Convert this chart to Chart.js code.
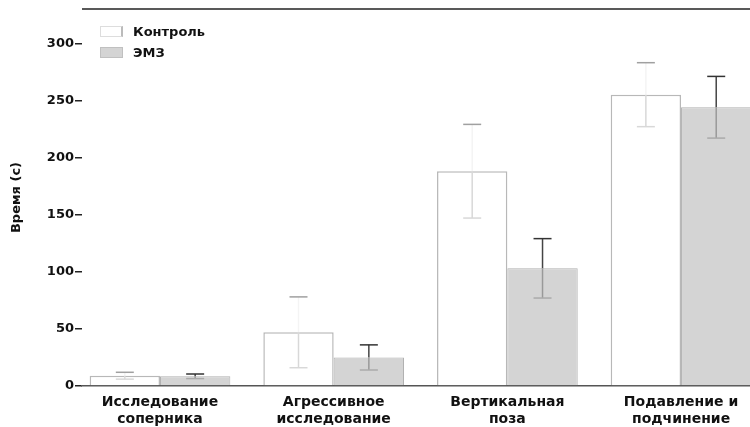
<!DOCTYPE html>
<html lang="ru">
<head>
    <meta charset="UTF-8">
    <title>Время поведенческих актов</title>
    <script src="https://cdn.jsdelivr.net/npm/chart.js"></script>
    <style>
        body {
            margin: 0;
            background: #fff;
            overflow: hidden;
            font-family: 'DejaVu Sans', sans-serif;
        }
        .wrap {
            position: relative;
            width: 750px;
            height: 427px;
        }
        .legend {
            position: absolute;
            left: 100px;
            top: 21px;
            font-weight: bold;
            font-size: 13px;
            color: #111;
        }
        .legend div {
            display: flex;
            align-items: center;
            height: 21px;
        }
        .legend span.box {
            display: inline-block;
            width: 23px;
            height: 11px;
            margin-right: 10px;
            box-sizing: border-box;
        }
    </style>
</head>
<body>
    <div class="wrap">
        <canvas id="timeChart" width="750" height="427"></canvas>
        <div class="legend">
            <div><span class="box" style="background:#fff;border:1px solid #ddd;border-right:2px solid #bbb"></span>Контроль</div>
            <div><span class="box" style="background:#d4d4d4;border:1px solid #c0c0c0"></span>ЭМЗ</div>
        </div>
    </div>

    <script>
        const categories = [
            ['Исследование', 'соперника'],
            ['Агрессивное', 'исследование'],
            ['Вертикальная', 'поза'],
            ['Подавление и', 'подчинение']
        ];
        const controlValues = [9, 47, 188, 255];
        const controlErrors = [3, 31, 41, 28];
        const emzValues = [8.5, 25, 103, 244];
        const emzErrors = [2, 11, 26, 27];
        const yTicks = [0, 50, 100, 150, 200, 250, 300];

        function strokeLine(ctx, x1, y1, x2, y2, color, width) {
            ctx.beginPath();
            ctx.moveTo(x1, y1);
            ctx.lineTo(x2, y2);
            ctx.strokeStyle = color;
            ctx.lineWidth = width;
            ctx.stroke();
        }

        // mean +/- error whiskers on top of each bar
        const errorBars = {
            id: 'errorBars',
            afterDatasetsDraw(chart) {
                const ctx = chart.ctx;
                const y = chart.scales.y;
                const styles = [
                    { values: controlValues, errors: controlErrors, up: '#f4f4f4', upCap: '#a0a0a0', down: '#d8d8d8', downCap: '#d8d8d8' },
                    { values: emzValues, errors: emzErrors, up: '#444', upCap: '#333', down: '#999', downCap: '#aaa' }
                ];
                ctx.save();
                styles.forEach((s, i) => {
                    chart.getDatasetMeta(i).data.forEach((bar, j) => {
                        const top = y.getPixelForValue(s.values[j] + s.errors[j]);
                        const mid = y.getPixelForValue(s.values[j]);
                        const bottom = y.getPixelForValue(s.values[j] - s.errors[j]);
                        strokeLine(ctx, bar.x, top, bar.x, mid, s.up, 1.5);
                        strokeLine(ctx, bar.x, mid, bar.x, bottom, s.down, 1.5);
                        strokeLine(ctx, bar.x - 9, top, bar.x + 9, top, s.upCap, 1.5);
                        strokeLine(ctx, bar.x - 9, bottom, bar.x + 9, bottom, s.downCap, 1.5);
                    });
                });
                ctx.restore();
            }
        };

        // thin rule along the top of the plot area
        const topRule = {
            id: 'topRule',
            beforeDatasetsDraw(chart) {
                const a = chart.chartArea;
                chart.ctx.save();
                strokeLine(chart.ctx, a.left, a.top, a.right, a.top, '#222', 1.5);
                chart.ctx.restore();
            }
        };

        const ctx = document.getElementById('timeChart').getContext('2d');
        new Chart(ctx, {
            type: 'bar',
            data: {
                datasets: [{
                    label: 'Контроль',
                    data: controlValues.map((v, i) => ({ x: i, y: v })),
                    backgroundColor: '#ffffff',
                    borderColor: '#b8b8b8',
                    borderWidth: 1.5
                }, {
                    label: 'ЭМЗ',
                    data: emzValues.map((v, i) => ({ x: i, y: v })),
                    backgroundColor: '#d4d4d4',
                    borderColor: '#b0b0b0',
                    borderWidth: 1
                }]
            },
            options: {
                responsive: false,
                animation: false,
                devicePixelRatio: 1,
                categoryPercentage: 0.81,
                barPercentage: 1,
                layout: { padding: { top: 9, left: 0, right: 0, bottom: 0 } },
                plugins: {
                    legend: { display: false },
                    tooltip: { enabled: false }
                },
                scales: {
                    x: {
                        type: 'linear',
                        offset: false,
                        min: -0.449,
                        max: 3.397,
                        afterBuildTicks: s => { s.ticks = categories.map((c, i) => ({ value: i })); },
                        afterFit: s => { s.height = 41; },
                        grid: { display: false, drawTicks: false },
                        border: { display: true, color: '#555', width: 1.5 },
                        ticks: {
                            autoSkip: false,
                            maxRotation: 0,
                            padding: 8,
                            color: '#111',
                            font: { family: 'DejaVu Sans', size: 14, weight: 'bold' },
                            callback: v => categories[v]
                        }
                    },
                    y: {
                        min: 0,
                        max: 330,
                        afterBuildTicks: s => { s.ticks = yTicks.map(v => ({ value: v })); },
                        afterFit: s => { s.width = 82; },
                        grid: { drawOnChartArea: false, drawTicks: true, tickLength: 7, color: '#222', lineWidth: 1.5 },
                        border: { display: false },
                        ticks: {
                            padding: 1,
                            color: '#111',
                            font: { family: 'DejaVu Sans', size: 13, weight: 'bold' }
                        },
                        title: {
                            display: true,
                            text: 'Время (с)',
                            color: '#111',
                            padding: { top: 9, bottom: 0 },
                            font: { family: 'DejaVu Sans', size: 13, weight: 'bold' }
                        }
                    }
                }
            },
            plugins: [topRule, errorBars]
        });
    </script>
</body>
</html>
